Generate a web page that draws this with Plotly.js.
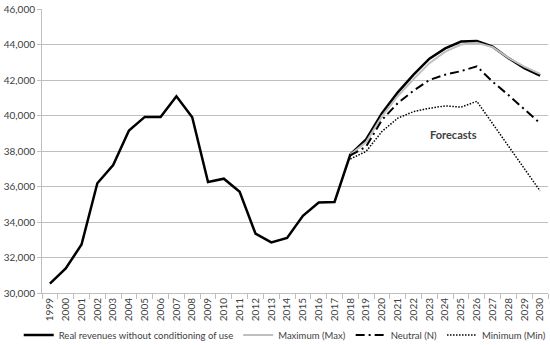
<!DOCTYPE html>
<html>
<head>
<meta charset="utf-8">
<script src="https://cdn.plot.ly/plotly-3.0.1.min.js"></script>
<style>html,body{margin:0;padding:0;background:#fff;}#chart{width:550px;height:345px;}</style>
</head>
<body>
<div id="chart"></div>
<script>
const years = ["1999","2000","2001","2002","2003","2004","2005","2006","2007","2008","2009","2010","2011","2012","2013","2014","2015","2016","2017","2018","2019","2020","2021","2022","2023","2024","2025","2026","2027","2028","2029","2030"];
const realRevenues = [30530,31380,32730,36180,37210,39150,39920,39920,41080,39900,36250,36440,35700,33350,32850,33100,34350,35100,35130,37800,38650,40130,41300,42300,43200,43780,44170,44200,43880,43230,42670,42240];
const forecastYears = ["2018","2019","2020","2021","2022","2023","2024","2025","2026","2027","2028","2029","2030"];
const maximum = [37800,38500,39950,41100,42050,42950,43600,44000,44100,43850,43250,42750,42350];
const neutral = [37750,38250,39750,40700,41400,42000,42300,42500,42770,41900,41150,40350,39560];
const minimum = [37550,37980,39100,39850,40220,40410,40540,40470,40800,39520,38270,36970,35750];
const seriesNames = ["Real revenues without conditioning of use","Maximum (Max)","Neutral (N)","Minimum (Min)"];
const annotationText = "Forecasts";

const traces = [
  {x: years, y: realRevenues, name: seriesNames[0], type: "scatter", mode: "lines",
   line: {color: "#000000", width: 2.5}},
  {x: forecastYears, y: maximum, name: seriesNames[1], type: "scatter", mode: "lines",
   line: {color: "#bfbfbf", width: 2}},
  {x: forecastYears, y: neutral, name: seriesNames[2], type: "scatter", mode: "lines",
   line: {color: "#000000", width: 2, dash: "9px,4px,2px,4px"}},
  {x: forecastYears, y: minimum, name: seriesNames[3], type: "scatter", mode: "lines",
   line: {color: "#000000", width: 1.5, dash: "1.5px,1.5px"}}
];

const layout = {
  width: 550, height: 345,
  margin: {l: 42, r: 2, t: 9, b: 52, autoexpand: false},
  paper_bgcolor: "#ffffff", plot_bgcolor: "#ffffff",
  font: {family: "Lato, 'Open Sans', sans-serif", size: 10, color: "#404040"},
  showlegend: true,
  legend: {orientation: "h", x: -0.046, xanchor: "left", y: -0.097, yanchor: "top",
    bgcolor: "rgba(0,0,0,0)", font: {size: 9.5, color: "#404040"}, itemwidth: 30, tracegroupgap: 0},
  xaxis: {type: "category", categoryorder: "array", categoryarray: years,
    range: [-0.5, years.length - 0.5], autorange: false,
    tickangle: -90, tickson: "boundaries", ticks: "outside", ticklen: 5,
    tickcolor: "#bfbfbf", showline: true, linecolor: "#bfbfbf", linewidth: 1,
    showgrid: false, tickfont: {size: 10, color: "#404040"}, fixedrange: true},
  yaxis: {range: [30000, 46000], autorange: false, dtick: 2000, tickformat: ",d", ticks: "outside",
    ticklen: 4, tickcolor: "#bfbfbf", showline: true, linecolor: "#bfbfbf",
    showgrid: true, gridcolor: "#bfbfbf", gridwidth: 1, zeroline: false,
    tickfont: {size: 10, color: "#404040"}, fixedrange: true},
  annotations: [{x: 25.55, y: 38950, xref: "x", yref: "y", text: "<b>" + annotationText + "</b>",
    showarrow: false, font: {size: 11, color: "#404040"}}]
};

Plotly.newPlot("chart", traces, layout, {displayModeBar: false, staticPlot: true});
</script>
</body>
</html>
